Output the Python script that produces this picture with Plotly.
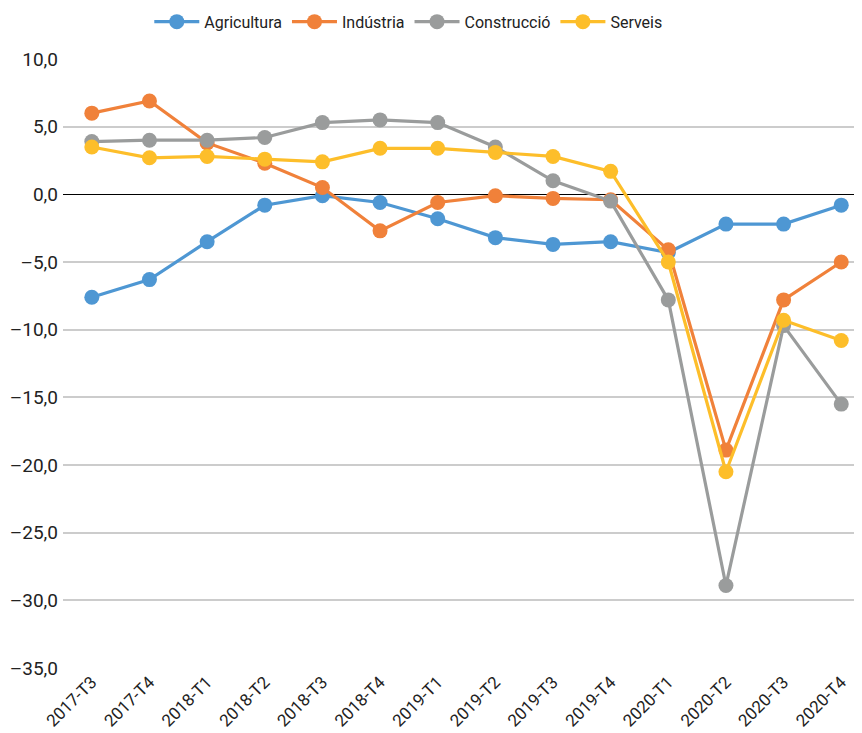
import plotly.graph_objects as go

categories = ["2017-T3", "2017-T4", "2018-T1", "2018-T2", "2018-T3", "2018-T4", "2019-T1",
              "2019-T2", "2019-T3", "2019-T4", "2020-T1", "2020-T2", "2020-T3", "2020-T4"]
agricultura = [-7.6, -6.3, -3.5, -0.8, -0.1, -0.6, -1.8, -3.2, -3.7, -3.5, -4.3, -2.2, -2.2, -0.8]
industria = [6.0, 6.9, 3.8, 2.3, 0.5, -2.7, -0.6, -0.1, -0.3, -0.4, -4.1, -18.9, -7.8, -5.0]
construccio = [3.9, 4.0, 4.0, 4.2, 5.3, 5.5, 5.3, 3.5, 1.0, -0.5, -7.8, -28.9, -9.7, -15.5]
serveis = [3.5, 2.7, 2.8, 2.6, 2.4, 3.4, 3.4, 3.1, 2.8, 1.7, -5.0, -20.5, -9.3, -10.8]

series_names = ["Agricultura", "Indústria", "Construcció", "Serveis"]
colors = ["#4E97D3", "#F0813A", "#9A9C9C", "#FDBE2A"]

ytick_vals = [10, 5, 0, -5, -10, -15, -20, -25, -30, -35]
ytick_text = ["10,0", "5,0", "0,0", "–5,0", "–10,0", "–15,0", "–20,0", "–25,0", "–30,0", "–35,0"]

FONT = "Roboto, Open Sans, sans-serif"

fig = go.Figure()
for name, vals, col in zip(series_names, [agricultura, industria, construccio, serveis], colors):
    fig.add_trace(go.Scatter(
        x=list(range(len(categories))), y=vals, name=name, mode="lines+markers",
        line=dict(color=col, width=3.2),
        marker=dict(color=col, size=15),
    ))

# page body has an 8px margin; figure is sized to fit the 862x733 window
fig.update_layout(
    width=854, height=725,
    margin=dict(l=55, r=0, t=51, b=65, autoexpand=False),
    paper_bgcolor="white", plot_bgcolor="white",
    font=dict(family=FONT, size=17, color="#222222"),
    legend=dict(orientation="h", x=0.108, xanchor="left", y=0.981, yanchor="middle",
                yref="container", font=dict(size=16), itemwidth=45, traceorder="normal"),
    showlegend=True,
)

fig.update_xaxes(
    range=[-0.5, 13.36], tickmode="array", tickvals=list(range(len(categories))),
    ticktext=categories, tickangle=-45, showgrid=False, zeroline=False, showline=False,
    tickfont=dict(size=17), ticks="", automargin=False,
)
fig.update_yaxes(
    range=[-35, 10], tickmode="array", tickvals=ytick_vals, ticktext=ytick_text,
    showgrid=True, gridcolor="#CCCCCC", gridwidth=1.5,
    zeroline=True, zerolinecolor="#000000", zerolinewidth=1.2,
    tickfont=dict(size=19), ticks="", showline=False, automargin=False, ticklabelstandoff=4,
)

fig.write_html("out.html")
